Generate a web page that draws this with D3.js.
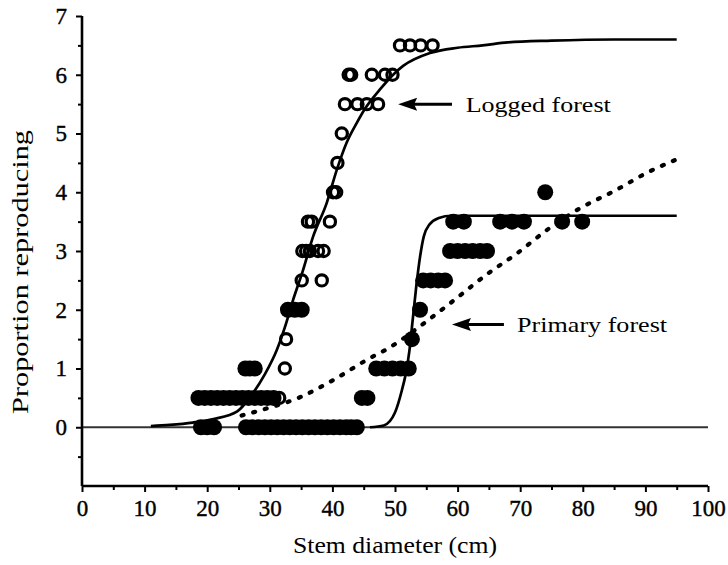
<!DOCTYPE html>
<html><head><meta charset="utf-8">
<script src="https://cdn.jsdelivr.net/npm/d3@7"></script>
<style>
body{margin:0;background:#fff}
text{font-family:"Liberation Serif","Times New Roman",serif;fill:#000}
</style>
</head><body>
<svg id="chart" width="728" height="565"></svg>
<script>
// ---- data ----
const xTicks = [0,10,20,30,40,50,60,70,80,90,100];
const xMinorTicks = [5,15,25,35,45,55,65,75,85,95];
const yTicks = [0,1,2,3,4,5,6,7];
const yMinorTicks = [-0.5,0.5,1.5,2.5,3.5,4.5,5.5,6.5];

// open circles (logged forest)
const loggedDiam = [31.5, 32.4, 32.6, 35.1, 38.3, 35.2, 35.8, 36.4, 37.7, 38.6,
  36.1, 36.7, 39.6, 40.1, 40.6, 40.8, 41.5, 42.0, 44.0, 45.5, 47.3,
  42.6, 43.0, 46.3, 48.4, 49.6, 50.8, 52.4, 54.1, 56.0];
const loggedProp = [0.5, 1.0, 1.5, 2.5, 2.5, 3.0, 3.0, 3.0, 3.0, 3.0,
  3.5, 3.5, 3.5, 4.0, 4.0, 4.5, 5.0, 5.5, 5.5, 5.5, 5.5,
  6.0, 6.0, 6.0, 6.0, 6.0, 6.5, 6.5, 6.5, 6.5];

// filled circles (primary forest)
const primaryDiam = [19.0, 20.0, 21.1,
  26.2, 27.2, 28.2, 29.2, 30.2, 31.2, 32.2, 33.2, 34.2, 35.2, 36.2, 37.2, 38.2, 39.2, 40.2, 41.2, 42.2, 43.0, 43.9,
  18.6, 19.6, 20.6, 21.6, 22.6, 23.6, 24.6, 25.6, 26.6, 27.6, 28.6, 29.6, 30.6, 44.7, 45.6,
  26.1, 26.8, 27.6, 47.0, 48.3, 49.6, 50.9, 52.2,
  52.7,
  32.9, 34.0, 35.1, 54.0,
  54.5, 55.7, 56.9, 58.0,
  58.8, 60.0, 61.2, 62.4, 63.6, 64.7,
  59.3, 61.0, 66.8, 68.7, 70.6, 76.7, 79.9,
  74.0];
const primaryProp = [0, 0, 0,
  0, 0, 0, 0, 0, 0, 0, 0, 0, 0, 0, 0, 0, 0, 0, 0, 0, 0, 0,
  0.5, 0.5, 0.5, 0.5, 0.5, 0.5, 0.5, 0.5, 0.5, 0.5, 0.5, 0.5, 0.5, 0.5, 0.5,
  1, 1, 1, 1, 1, 1, 1, 1,
  1.5,
  2, 2, 2, 2,
  2.5, 2.5, 2.5, 2.5,
  3, 3, 3, 3, 3, 3,
  3.5, 3.5, 3.5, 3.5, 3.5, 3.5, 3.5,
  4];

// fitted curves
const loggedCurveX = [11, 14, 17.7, 21, 24.8, 27.3, 29.2, 31.1, 32.4, 33.7, 35.3, 36.9, 39.1, 40.7, 42.3, 43.9, 45.2, 47.6, 49.5, 51.3, 55.6, 60, 64, 68, 75, 85, 95];
const loggedCurveY = [0.02, 0.04, 0.08, 0.14, 0.27, 0.58, 0.9, 1.31, 1.7, 2.16, 2.67, 3.24, 3.82, 4.38, 4.85, 5.18, 5.42, 5.75, 5.98, 6.15, 6.37, 6.46, 6.5, 6.55, 6.58, 6.6, 6.6];

const primaryCurveX = [46, 48.2, 50, 51.1, 51.7, 52.3, 52.8, 53.4, 54, 54.6, 55.5, 57, 59, 70, 95];
const primaryCurveY = [0, 0.03, 0.25, 0.63, 0.9, 1.3, 1.8, 2.4, 2.9, 3.25, 3.45, 3.56, 3.6, 3.6, 3.6];

const dottedX = [25.5, 28.9, 34.8, 40.4, 45.7, 49.2, 54, 58.8, 64.9, 69.5, 74.3, 79.6, 85, 90.4, 95];
const dottedY = [0.2, 0.3, 0.51, 0.82, 1.16, 1.36, 1.72, 2.11, 2.62, 2.96, 3.36, 3.73, 4.02, 4.34, 4.56];

const labels = ["Logged forest", "Primary forest"];
const labelX = [61.3, 69.5];
const labelY = [5.36, 1.62];
const arrowTipX = [50.5, 59.1];
const arrowTailX = [59.1, 67.4];
const arrowY = [5.5, 1.75];

// ---- drawing ----
const svg = d3.select("#chart");
const x = d3.scaleLinear().domain([0,100]).range([82,708]);
const y = d3.scaleLinear().domain([-1,7]).range([486,16]);

// zero line
svg.append("line")
  .attr("x1", x(0)).attr("x2", x(100)).attr("y1", y(0)).attr("y2", y(0))
  .attr("stroke", "#333").attr("stroke-width", 2);

const lineGen = d3.line().x(d => x(d[0])).y(d => y(d[1])).curve(d3.curveMonotoneX);

// dotted line
svg.append("path")
  .datum(dottedX.map((d,i) => [d, dottedY[i]]))
  .attr("d", lineGen)
  .attr("fill", "none").attr("stroke", "#000").attr("stroke-width", 4.2)
  .attr("stroke-linecap", "round").attr("stroke-dasharray", "2,10");

// fitted curves
[[loggedCurveX, loggedCurveY], [primaryCurveX, primaryCurveY]].forEach(([cx, cy]) => {
  svg.append("path")
    .datum(cx.map((d,i) => [d, cy[i]]))
    .attr("d", lineGen)
    .attr("fill", "none").attr("stroke", "#000").attr("stroke-width", 2.7)
    .attr("stroke-linejoin", "round");
});

// filled circles
svg.append("g").selectAll("circle")
  .data(primaryDiam.map((d,i) => [d, primaryProp[i]]))
  .join("circle")
  .attr("cx", d => x(d[0])).attr("cy", d => y(d[1])).attr("r", 8)
  .attr("fill", "#000");

// open circles
svg.append("g").selectAll("circle")
  .data(loggedDiam.map((d,i) => [d, loggedProp[i]]))
  .join("circle")
  .attr("cx", d => x(d[0])).attr("cy", d => y(d[1])).attr("r", 5.6)
  .attr("fill", "none").attr("stroke", "#000").attr("stroke-width", 3.2);

// axes
const axisFont = g => g.selectAll("text")
  .style("font-family", "'Liberation Serif', serif").style("font-size", "23px")
  .attr("fill", "#000").attr("stroke", "#000").attr("stroke-width", 0.4);

const xAxis = svg.append("g").attr("transform", `translate(0,${y(-1)})`)
  .call(d3.axisBottom(x).tickValues(xTicks).tickSize(6).tickPadding(8).tickFormat(d3.format("d")));
xAxis.call(axisFont);
xAxis.select(".domain").attr("stroke-width", 2.6).attr("d", `M${x(0)},0H${x(100)}`);
xAxis.selectAll(".tick line").attr("stroke-width", 2);

svg.append("g").attr("transform", `translate(0,${y(-1)})`)
  .call(d3.axisBottom(x).tickValues(xMinorTicks).tickSize(4).tickFormat(""))
  .call(g => g.select(".domain").remove())
  .selectAll(".tick line").attr("stroke-width", 2);

const yAxis = svg.append("g").attr("transform", `translate(${x(0)},0)`)
  .call(d3.axisLeft(y).tickValues(yTicks).tickSize(6).tickPadding(9).tickFormat(d3.format("d")));
yAxis.call(axisFont);
yAxis.select(".domain").attr("stroke-width", 2.6).attr("d", `M0,${y(7)}V${y(-1)}`);
yAxis.selectAll(".tick line").attr("stroke-width", 2);

svg.append("g").attr("transform", `translate(${x(0)},0)`)
  .call(d3.axisLeft(y).tickValues(yMinorTicks).tickSize(4).tickFormat(""))
  .call(g => g.select(".domain").remove())
  .selectAll(".tick line").attr("stroke-width", 2);

// axis titles
svg.append("text").attr("x", 395).attr("y", 553).attr("text-anchor", "middle")
  .style("font-size", "24px").attr("textLength", 204).attr("lengthAdjust", "spacingAndGlyphs")
  .text("Stem diameter (cm)");
svg.append("text").attr("transform", "translate(28,272) rotate(-90)").attr("text-anchor", "middle")
  .style("font-size", "24px").attr("textLength", 284).attr("lengthAdjust", "spacingAndGlyphs")
  .text("Proportion reproducing");

// annotations
const labelLen = [145, 150];
labels.forEach((t, i) => {
  svg.append("line")
    .attr("x1", x(arrowTailX[i])).attr("x2", x(arrowTipX[i]) + 14)
    .attr("y1", y(arrowY[i])).attr("y2", y(arrowY[i]))
    .attr("stroke", "#000").attr("stroke-width", 3);
  const tx = x(arrowTipX[i]), ty = y(arrowY[i]);
  svg.append("path")
    .attr("d", `M${tx},${ty}L${tx+19},${ty-6.5}L${tx+16},${ty}L${tx+19},${ty+6.5}Z`)
    .attr("fill", "#000");
  svg.append("text").attr("x", x(labelX[i])).attr("y", y(labelY[i]))
    .style("font-size", "22px").attr("textLength", labelLen[i]).attr("lengthAdjust", "spacingAndGlyphs")
    .text(t);
});
</script>
</body></html>
